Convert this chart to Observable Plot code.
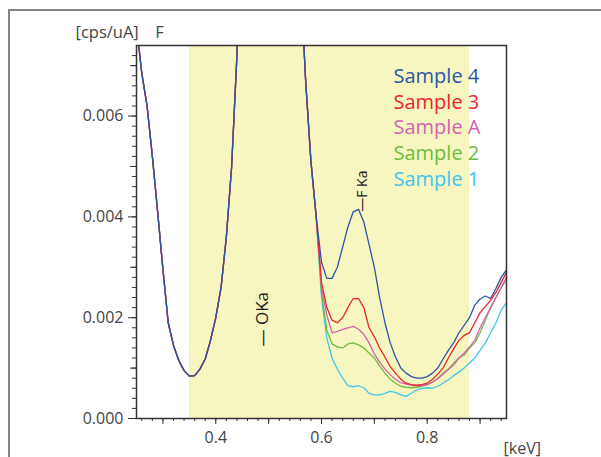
<!DOCTYPE html>
<html><head><meta charset="utf-8">
<script src="https://cdn.jsdelivr.net/npm/d3@7"></script>
<script src="https://cdn.jsdelivr.net/npm/@observablehq/plot@0.6"></script>
<style>
body{margin:0;background:#fff;overflow:hidden}
#wrap{position:relative;width:601px;height:457px;overflow:hidden}
#border{position:absolute;left:8px;top:9px;width:700px;height:700px;border-left:2px solid #858585;border-top:2px solid #858585;pointer-events:none}
</style></head><body><div id="wrap"><div id="border"></div></div>
<script>
// energy grid (keV)
const energy = [0.25,0.26,0.27,0.28,0.29,0.30,0.31,0.32,0.33,0.34,0.35,0.36,0.37,0.38,0.39,0.40,0.41,0.42,0.43,0.44,0.45,0.46,0.47,0.48,0.49,0.50,0.51,0.52,0.53,0.54,0.55,0.56,0.57,0.58,0.59,
  0.60,0.61,0.62,0.63,0.64,0.65,0.66,0.67,0.68,0.69,0.70,0.71,0.72,0.73,0.74,0.75,0.76,0.77,0.78,0.79,0.80,0.81,0.82,0.83,0.84,0.85,0.86,0.87,0.88,0.89,0.90,0.91,0.92,0.93,0.94,0.95];
// shared part of all spectra, 0.25 .. 0.59 keV (O Ka peak is off scale)
const sharedHead = [0.0078,0.00685,0.0062,0.0052,0.0041,0.00296,0.0019,0.00145,0.00115,0.00095,0.00084,0.00085,0.00098,0.00118,0.00155,0.0020,0.0026,0.0036,0.0050,0.0072,
  0.0098,0.0125,0.0150,0.0170,0.0182,0.0188,0.0186,0.0178,0.0163,0.0142,0.0116,0.0088,0.0067,0.0051,0.0040];
// individual parts, 0.60 .. 0.95 keV
const sample4Tail = [0.0031,0.00278,0.00278,0.0030,0.0034,0.0038,0.0041,0.00415,0.0039,0.00345,0.0030,0.0024,0.0019,0.0015,0.00122,0.0010,0.0009,0.00083,0.0008,0.0008,0.00083,0.0009,0.0010,0.00118,0.00135,0.0015,0.0017,0.00185,0.0020,0.00225,0.00237,0.00243,0.00238,0.00258,0.0028,0.00295];
const sample3Tail = [0.0027,0.0022,0.00195,0.0019,0.0020,0.0022,0.00238,0.00238,0.0022,0.0018,0.00162,0.0014,0.00122,0.00103,0.0009,0.00078,0.0007,0.00067,0.00066,0.00067,0.0007,0.00078,0.00088,0.0010,0.0012,0.00138,0.00155,0.00165,0.0017,0.0019,0.0021,0.00222,0.00235,0.0025,0.0027,0.0029];
const sampleATail = [0.0026,0.00205,0.0017,0.00173,0.00177,0.0018,0.00183,0.00177,0.00167,0.0015,0.00128,0.00112,0.00098,0.00087,0.00078,0.00071,0.00068,0.00066,0.00065,0.00066,0.00067,0.00072,0.00079,0.00088,0.00097,0.00106,0.0012,0.0013,0.00142,0.00155,0.0018,0.0020,0.0022,0.0024,0.0026,0.0028];
const sample2Tail = [0.0025,0.00175,0.00148,0.00142,0.0014,0.00148,0.0015,0.00146,0.0014,0.0013,0.0012,0.00104,0.0009,0.00078,0.0007,0.00064,0.00062,0.00061,0.00062,0.00064,0.00067,0.00072,0.0008,0.0009,0.00098,0.0011,0.0012,0.00126,0.0014,0.0015,0.0017,0.00195,0.0022,0.0024,0.0026,0.00275];
const sample1Tail = [0.0024,0.0016,0.0012,0.00098,0.0008,0.00065,0.00063,0.00065,0.00061,0.0005,0.00047,0.00047,0.0005,0.00054,0.00052,0.00047,0.00044,0.0005,0.00057,0.0006,0.00061,0.0006,0.00064,0.0007,0.00077,0.00085,0.00092,0.0010,0.0011,0.0012,0.00135,0.0015,0.0017,0.0019,0.00215,0.0023];

const seriesNames = ["Sample 4","Sample 3","Sample A","Sample 2","Sample 1"];
const seriesColors = ["#2c55a6","#e8262c","#d462b2","#6ebd3e","#42c5ee"];
const seriesTails = [sample4Tail,sample3Tail,sampleATail,sample2Tail,sample1Tail];
const bandRange = [0.35, 0.88];
const oLabel = {label:"— OKa", energy:0.489, level:0.00197};
const fLabel = {label:"—F Ka", energy:0.678, level:0.00451};
const yLabelTicks = [0, 0.002, 0.004, 0.006];
const yMidTicks = [0.001, 0.003, 0.005, 0.007];
const xLabelTicks = [0.4, 0.6, 0.8];
const xMidTicks = [0.3, 0.5, 0.7, 0.9];
const xDomain = [0.25, 0.95];
const yDomain = [0, 0.0074];

// rows, drawn from Sample 1 (bottom) to Sample 4 (top)
const rows = [];
for (let s = seriesNames.length - 1; s >= 0; s--) {
  const vals = sharedHead.concat(seriesTails[s]);
  energy.forEach((e, i) => rows.push({series: seriesNames[s], x: e, y: vals[i]}));
}
const yMinorTicks = d3.range(0, 37).map(i => i * 0.0002);
const xMinorTicks = d3.range(0, 35).map(i => 0.26 + i * 0.02);
const none = () => "";

const font = "'Open Sans', 'Noto Sans', sans-serif";
const chart = Plot.plot({
  width: 601, height: 457,
  marginLeft: 136, marginRight: 95, marginTop: 45, marginBottom: 39,
  style: {fontFamily: font, fontSize: "16px", color: "#333", background: "transparent"},
  x: {domain: xDomain},
  y: {domain: yDomain},
  color: {domain: seriesNames, range: seriesColors},
  marks: [
    Plot.rect([bandRange], {x1: d => d[0], x2: d => d[1], y1: yDomain[0], y2: yDomain[1], fill: "#f7f5c0"}),
    Plot.line(rows, {x: "x", y: "y", z: "series", stroke: "series", strokeWidth: 1.3, clip: true}),
    Plot.frame({stroke: "#333", strokeWidth: 1.5}),
    Plot.axisY({ticks: yLabelTicks, tickFormat: d3.format(".3f"), tickSize: 8, tickPadding: 5, fontSize: 16, label: null, stroke: "#333", fill: "#444"}),
    Plot.axisY({ticks: yMidTicks, tickFormat: none, tickSize: 6, label: null, stroke: "#333"}),
    Plot.axisY({ticks: yMinorTicks, tickFormat: none, tickSize: 4, label: null, stroke: "#333"}),
    Plot.axisX({ticks: xLabelTicks, tickFormat: d3.format(".1f"), tickSize: 6, tickPadding: 7, fontSize: 16, label: null, stroke: "#333", fill: "#444"}),
    Plot.axisX({ticks: xMidTicks, tickFormat: none, tickSize: 6, label: null, stroke: "#333"}),
    Plot.axisX({ticks: xMinorTicks, tickFormat: none, tickSize: 3, label: null, stroke: "#333"}),
    Plot.text(["[cps/uA]\u2003F"], {frameAnchor: "top-left", dx: -61, dy: -8, textAnchor: "start", lineAnchor: "bottom", fontSize: 16.5, fill: "#444"}),
    Plot.text(["[keV]"], {frameAnchor: "bottom-right", dx: -3, dy: 35, textAnchor: "start", lineAnchor: "bottom", fontSize: 16, fill: "#444"}),
    Plot.text([oLabel], {x: "energy", y: "level", text: "label", rotate: -90, fontSize: 17, fill: "#222", textAnchor: "middle", lineAnchor: "middle"}),
    Plot.text([fLabel], {x: "energy", y: "level", text: "label", rotate: -90, fontSize: 14, fill: "#222", textAnchor: "middle", lineAnchor: "middle"}),
    ...seriesNames.map((name, i) => Plot.text([name], {frameAnchor: "top-left", dx: 257, dy: 23 + i * 25.8, textAnchor: "start", lineAnchor: "top", fontSize: 20, fill: seriesColors[i]}))
  ]
});
document.getElementById("wrap").prepend(chart);
</script>
</body></html>
